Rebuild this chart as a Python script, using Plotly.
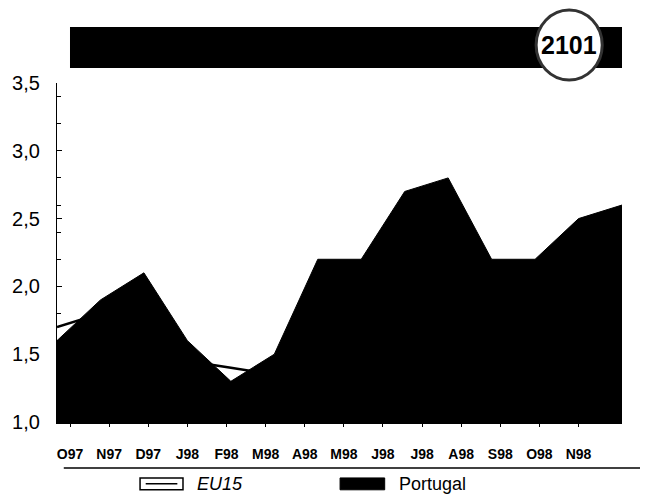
import plotly.graph_objects as go

# monthly values, Oct 1997 - Nov 1998
months = ["O97", "N97", "D97", "J98", "F98", "M98", "A98",
          "M98", "J98", "J98", "A98", "S98", "O98", "N98"]
portugal = [1.6, 1.9, 2.1, 1.6, 1.3, 1.5, 2.2, 2.2, 2.7, 2.8, 2.2, 2.2, 2.5, 2.6]
eu15 = [1.7, 1.8, 1.7, 1.45, 1.4, 1.35, 1.4, 1.4, 1.4, 1.35, 1.3, 1.3, 1.2, 1.2]
yticks = [1.0, 1.5, 2.0, 2.5, 3.0, 3.5]

idx = list(range(len(months)))
# tick labels sit a bit inside the data span in the original print
label_pos = [0.3 + 0.9 * i for i in idx]

fig = go.Figure()

fig.add_trace(go.Scatter(
    x=idx, y=eu15, mode="lines", name="EU15",
    line=dict(color="black", width=2.5),
    showlegend=False,
))
fig.add_trace(go.Scatter(
    x=idx, y=portugal, mode="lines", name="Portugal",
    line=dict(color="black", width=1),
    fill="tozeroy", fillcolor="black",
    showlegend=False,
))

shapes = [
    # header bar
    dict(type="rect", xref="paper", yref="paper", x0=0.023, x1=1.0, y0=1.044, y1=1.165,
         fillcolor="black", line=dict(width=0), layer="above"),
    # badge
    dict(type="circle", xref="paper", yref="paper", x0=0.848, x1=0.965, y0=1.009, y1=1.215,
         fillcolor="white", line=dict(color="#333", width=3), layer="above"),
    # rule under the month labels
    dict(type="line", xref="paper", yref="paper", x0=0.012, x1=1.032, y0=-0.136, y1=-0.136,
         line=dict(color="black", width=1.5)),
    # legend keys
    dict(type="rect", xref="paper", yref="paper", x0=0.147, x1=0.223, y0=-0.2, y1=-0.165,
         fillcolor="white", line=dict(color="black", width=1.5)),
    dict(type="line", xref="paper", yref="paper", x0=0.157, x1=0.213, y0=-0.1825, y1=-0.1825,
         line=dict(color="black", width=1.5)),
    dict(type="rect", xref="paper", yref="paper", x0=0.501, x1=0.58, y0=-0.2, y1=-0.165,
         fillcolor="black", line=dict(color="black", width=1)),
]

annotations = [
    dict(text="<b>2101</b>", xref="paper", yref="paper", x=0.906, y=1.112,
         xanchor="center", yanchor="middle", showarrow=False,
         font=dict(family="Liberation Sans", size=25, color="black")),
    dict(text="<i>EU15</i>", xref="paper", yref="paper", x=0.244, y=-0.183,
         xanchor="left", yanchor="middle", showarrow=False,
         font=dict(family="Liberation Sans", size=18, color="black")),
    dict(text="Portugal", xref="paper", yref="paper", x=0.602, y=-0.183,
         xanchor="left", yanchor="middle", showarrow=False,
         font=dict(family="Liberation Sans", size=18, color="black")),
]

# the page body adds an 8px offset, so margins are trimmed to compensate
fig.update_layout(
    width=648, height=495,
    margin=dict(l=49, r=34, t=75, b=81),
    paper_bgcolor="white", plot_bgcolor="white",
    separators=",.",
    shapes=shapes,
    annotations=annotations,
    font=dict(family="Liberation Sans", color="black"),
)

fig.update_xaxes(
    range=[0, 13], showgrid=False, zeroline=False, automargin=False,
    showline=True, linecolor="black", linewidth=1.5,
    tickmode="array", tickvals=label_pos, ticktext=months,
    ticks="outside", ticklen=3, tickcolor="black",
    ticklabelstandoff=15,
    tickfont=dict(family="Liberation Sans", size=14, weight="bold"),
)
fig.update_yaxes(
    range=[1.0, 3.5], showgrid=False, zeroline=False, automargin=False,
    showline=True, linecolor="black", linewidth=1.2,
    tickmode="array", tickvals=yticks, tickformat=".1f",
    ticks="inside", ticklen=5, tickcolor="black",
    minor=dict(tickmode="linear", tick0=1.0, dtick=0.2, ticks="inside", ticklen=4, tickcolor="black"),
    ticklabelstandoff=12,
    tickfont=dict(family="Liberation Sans", size=20),
)

fig.write_html("out.html")
